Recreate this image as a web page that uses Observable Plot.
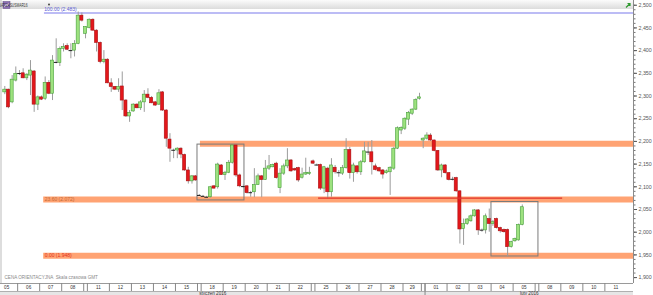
<!DOCTYPE html>
<html><head><meta charset="utf-8">
<script src="https://cdn.jsdelivr.net/npm/d3@7"></script>
<script src="https://cdn.jsdelivr.net/npm/@observablehq/plot@0.6"></script>
<style>html,body{margin:0;padding:0;background:#fff}#chart svg{display:block}</style>
</head><body><div id="chart"></div>
<script>
// ---------- data ----------
const symbol = "NATGASUSMAR16";
const open = [
2.308,2.314,2.286,2.334,2.349,2.350,2.339,2.345,2.354,2.281,
2.297,2.294,2.329,2.305,2.375,2.373,2.404,2.410,2.400,2.400,
2.415,2.477,2.437,2.450,2.468,2.444,2.417,2.375,2.380,2.328,
2.320,2.314,2.321,2.290,2.255,2.266,2.281,2.273,2.286,2.303,
2.296,2.286,2.281,2.308,2.268,2.204,2.180,2.180,2.184,2.170,
2.136,2.112,2.123,2.081,2.079,2.077,2.077,2.101,2.099,2.147,
2.126,2.131,2.153,2.191,2.125,2.101,2.101,2.086,2.088,2.104,
2.123,2.115,2.140,2.143,2.151,2.097,2.129,2.145,2.158,2.139,
2.141,2.120,2.127,2.128,2.156,2.148,2.148,2.096,2.140,2.088,
2.142,2.131,2.129,2.141,2.181,2.130,2.145,2.132,2.154,2.177,
2.176,2.145,2.141,2.136,2.130,2.132,2.140,2.184,2.224,2.228,
2.248,2.261,2.270,2.294,2.202,2.206,2.213,2.202,2.179,2.136,
2.147,2.130,2.117,2.119,2.090,2.007,2.018,2.024,2.035,2.048,
2.005,2.004,2.029,2.018,2.029,2.009,2.005,2.005,1.967,1.980,1.982,2.016];
const high = [
2.321,2.315,2.345,2.364,2.356,2.360,2.349,2.378,2.356,2.300,
2.300,2.342,2.334,2.389,2.426,2.408,2.415,2.415,2.415,2.422,
2.485,2.483,2.453,2.470,2.470,2.446,2.419,2.400,2.382,2.338,
2.321,2.338,2.353,2.292,2.268,2.283,2.283,2.290,2.312,2.316,
2.299,2.288,2.314,2.310,2.270,2.217,2.183,2.186,2.186,2.172,
2.143,2.125,2.125,2.083,2.081,2.079,2.101,2.103,2.152,2.149,
2.134,2.158,2.191,2.191,2.128,2.104,2.103,2.090,2.140,2.128,
2.125,2.158,2.169,2.150,2.154,2.140,2.150,2.184,2.160,2.141,
2.143,2.141,2.163,2.143,2.159,2.150,2.150,2.145,2.143,2.162,
2.147,2.136,2.147,2.206,2.187,2.152,2.147,2.158,2.198,2.198,
2.202,2.150,2.143,2.138,2.137,2.144,2.187,2.232,2.232,2.252,
2.266,2.272,2.294,2.306,2.208,2.219,2.217,2.203,2.180,2.150,
2.149,2.131,2.121,2.121,2.091,2.029,2.030,2.038,2.050,2.050,
2.007,2.040,2.051,2.026,2.031,2.011,2.007,2.007,1.980,1.987,2.018,2.060];
const low = [
2.303,2.272,2.283,2.331,2.345,2.338,2.334,2.301,2.264,2.268,
2.290,2.290,2.303,2.290,2.371,2.365,2.397,2.400,2.382,2.386,
2.413,2.463,2.426,2.448,2.443,2.397,2.371,2.371,2.327,2.308,
2.312,2.308,2.268,2.253,2.242,2.264,2.272,2.268,2.264,2.294,
2.283,2.277,2.279,2.266,2.187,2.154,2.162,2.162,2.162,2.134,
2.106,2.106,2.112,2.079,2.077,2.075,2.075,2.095,2.095,2.125,
2.114,2.129,2.150,2.121,2.098,2.096,2.084,2.077,2.076,2.103,
2.076,2.114,2.136,2.142,2.117,2.085,2.125,2.140,2.132,2.134,
2.110,2.117,2.125,2.125,2.149,2.146,2.092,2.085,2.074,2.077,
2.128,2.121,2.125,2.139,2.117,2.110,2.128,2.125,2.152,2.169,
2.126,2.135,2.132,2.117,2.128,2.081,2.136,2.182,2.215,2.224,
2.235,2.257,2.268,2.291,2.184,2.203,2.200,2.177,2.134,2.120,
2.128,2.113,2.113,2.088,1.974,1.971,2.015,2.022,2.033,1.993,
2.000,1.996,2.000,2.013,2.007,1.998,1.998,1.946,1.965,1.978,1.980,2.014];
const close = [
2.314,2.275,2.336,2.349,2.350,2.339,2.347,2.356,2.281,2.297,
2.292,2.329,2.305,2.378,2.373,2.404,2.408,2.402,2.400,2.415,
2.477,2.466,2.452,2.468,2.444,2.417,2.375,2.380,2.328,2.320,
2.314,2.320,2.290,2.255,2.263,2.281,2.273,2.286,2.303,2.296,
2.284,2.279,2.306,2.268,2.206,2.184,2.181,2.184,2.171,2.136,
2.112,2.123,2.114,2.081,2.079,2.077,2.099,2.096,2.149,2.126,
2.131,2.153,2.191,2.125,2.101,2.100,2.086,2.088,2.104,2.123,
2.115,2.140,2.145,2.148,2.119,2.129,2.145,2.158,2.134,2.136,
2.114,2.127,2.130,2.131,2.151,2.148,2.096,2.143,2.088,2.147,
2.132,2.131,2.141,2.181,2.130,2.147,2.132,2.154,2.178,2.176,
2.154,2.137,2.134,2.127,2.134,2.142,2.184,2.229,2.230,2.250,
2.263,2.270,2.291,2.297,2.206,2.213,2.202,2.179,2.136,2.147,
2.130,2.115,2.116,2.090,2.006,2.018,2.028,2.035,2.048,2.004,
2.004,2.035,2.018,2.022,2.009,2.002,2.000,1.967,1.978,1.985,2.016,2.055];

// date axis (4-hour candles; index of first and last candle of each day)
const dayLabels = ["05","06","07","08","11","12","13","14","15","18","19","20","21","22","25","26","27","28","29","01","02","03","04","05","08","09","10","11"];
const dayFirst  = [-2,4,10,16,23,29,35,41,47,54,60,66,72,78,85,91,97,103,109,115,121,127,133,139,146,152,158,164];
const dayLast   = [3,9,15,21,28,34,40,46,52,59,65,71,77,83,90,96,102,108,113,120,126,132,138,144,151,157,163,169];
const sundayCandles = [22,53,84,114,145];
const monthLabels = ["styczeń 2016","luty 2016"];
const monthFirst = [-2,115];
const monthLast  = [114,175];

// price axis ticks
const priceTicks = d3.range(38, 51).map(d => d / 20);     // 1.90 .. 2.50
const minorTicks = d3.range(190, 251).map(d => d / 100);

// Fibonacci levels
const fibLabels = ["100.00 (2.483)","23.60 (2.072)","0.00 (1.948)"];
const fibValues = [2.483, 2.072, 1.948];
const fibStart = 10.6;
// resistance zone
const zoneValue = 2.195, zoneStart = 53.3;
// red trend line
const redLineValue = 2.075, redLineStart = 85.5, redLineEnd = 152;
// consolidation boxes
const boxLeft = [52.5, 132.6], boxRight = [65.3, 145.4];
const boxTop = [2.193, 2.0665], boxBottom = [2.070, 1.9465];
const caption = "CENA ORIENTACYJNA  Skala czasowa GMT";

// ---------- chart ----------
const xDomain = [-1.172, 171.3];
const yDomain = [1.887, 2.5104];
const idx = d3.range(open.length);
const isDoji = i => Math.abs(close[i] - open[i]) < 0.0025;
const up = idx.filter(i => !isDoji(i) && close[i] > open[i]);
const down = idx.filter(i => !isDoji(i) && close[i] < open[i]);
const doji = idx.filter(isDoji);
const fmt = d => d.toFixed(3).replace(".", ",");

const separators = [];
dayFirst.forEach(f => separators.push(f - 0.5));
sundayCandles.forEach(s => separators.push(s - 0.5, s + 0.5));
const sepUnique = Array.from(new Set(separators)).filter(s => s > xDomain[0] && s < xDomain[1]).sort((a,b)=>a-b);
const dayCenters = dayFirst.map((f, i) => (f + dayLast[i]) / 2);
const dayLabelOf = new Map(dayCenters.map((c, i) => [c, dayLabels[i]]));
const monthCenters = monthFirst.map((f, i) => (Math.max(f - 0.5, xDomain[0]) + Math.min(monthLast[i] + 0.5, xDomain[1])) / 2);
const monthLabelOf = new Map(monthCenters.map((c, i) => [c, monthLabels[i]]));

const chrome = (index, scales, values, dims) => {
  const right = dims.width - dims.marginRight;
  const bottom = dims.height - dims.marginBottom;
  const g = d3.create("svg:g");
  const lg = g.append("defs").append("linearGradient").attr("id","hdrGrad").attr("x1",0).attr("x2",0).attr("y1",0).attr("y2",1);
  lg.append("stop").attr("offset","0%").attr("stop-color","#fbfbfb");
  lg.append("stop").attr("offset","100%").attr("stop-color","#dcdcdc");
  g.append("rect").attr("x",0).attr("y",0).attr("width",right).attr("height",9).attr("fill","url(#hdrGrad)");
  g.append("line").attr("x1",1).attr("x2",1).attr("y1",0).attr("y2",bottom).attr("stroke","#bbb");
  g.append("rect").attr("x",0).attr("y",bottom+8).attr("width",right).attr("height",dims.marginBottom-8).attr("fill","#e6e6e6");
  g.append("line").attr("x1",0).attr("x2",right).attr("y1",bottom+0.5).attr("y2",bottom+0.5).attr("stroke","#9a9a9a");
  g.append("line").attr("x1",0).attr("x2",right).attr("y1",bottom+8.5).attr("y2",bottom+8.5).attr("stroke","#b0b0b0");
  // symbol header
  g.append("rect").attr("x",3).attr("y",1.5).attr("width",7).attr("height",7).attr("fill","#8d6fb5").attr("stroke","#5d4a80").attr("stroke-width",0.5);
  g.append("path").attr("d","M4.5,7 L6,4.5 L7.2,6 L8.8,3").attr("fill","none").attr("stroke","#fff").attr("stroke-width",0.8);
  g.append("text").attr("x",13).attr("y",7.2).attr("font-size",4.6).attr("fill","#333")
    .attr("textLength",29).attr("lengthAdjust","spacingAndGlyphs").text(symbol);
  g.append("circle").attr("cx",49).attr("cy",4.5).attr("r",0.9).attr("fill","#333");
  g.append("path").attr("d",`M${right-7},7.5 L${right-3},3.5 M${right-5.5},3.5 L${right-3},3.5 L${right-3},6`).attr("fill","none").attr("stroke","#2f9a2f").attr("stroke-width",1.2);
  return g.node();
};

const chart = Plot.plot({
  width: 653, height: 295,
  marginTop: 0, marginRight: 20, marginBottom: 12, marginLeft: 0,
  style: {fontFamily: "'Liberation Sans', Arial, sans-serif", background: "#fff", overflow: "visible"},
  x: {domain: xDomain},
  y: {domain: yDomain},
  marks: [
    chrome,
    // Fibonacci bands
    Plot.ruleY([1, 2], {y: i => fibValues[i], x1: fibStart, x2: xDomain[1], stroke: "#ffa373", strokeWidth: 6}),
    Plot.ruleY([zoneValue], {x1: zoneStart, x2: xDomain[1], stroke: "#ffa373", strokeWidth: 6}),
    Plot.ruleY([0], {y: i => fibValues[i], x1: fibStart + 0.2, x2: xDomain[1], stroke: "#a6a6f2", strokeWidth: 1.5}),
    // boxes
    Plot.rect([0, 1], {x1: i => boxLeft[i], x2: i => boxRight[i], y1: i => boxBottom[i], y2: i => boxTop[i], fill: "none", stroke: "#7a7a7a", strokeWidth: 1}),
    // candles
    Plot.ruleX(idx, {x: i => i, y1: i => low[i], y2: i => high[i], stroke: "#9c9c9c", strokeWidth: 1}),
    Plot.rect(up, {x1: i => i - 0.42, x2: i => i + 0.42, y1: i => open[i], y2: i => close[i], fill: "#9de27f", stroke: "#46a03a", strokeWidth: 0.6}),
    Plot.rect(down, {x1: i => i - 0.42, x2: i => i + 0.42, y1: i => open[i], y2: i => close[i], fill: "#e3171b", stroke: "#a90e10", strokeWidth: 0.6}),
    Plot.ruleY(doji, {y: i => (open[i] + close[i]) / 2, x1: i => i - 0.5, x2: i => i + 0.5, stroke: "#1e1e1e", strokeWidth: 1}),
    // red line
    Plot.ruleY([redLineValue], {x1: redLineStart, x2: redLineEnd, stroke: "#e2322a", strokeWidth: 1.2}),
    // level labels
    Plot.text([0], {x: fibStart, y: i => fibValues[i], text: i => fibLabels[i], textAnchor: "start", dx: 0.5, dy: -3.8, fontSize: 5, fill: "#5b5bd6"}),
    Plot.text([1], {x: fibStart, y: i => fibValues[i], text: i => fibLabels[i], textAnchor: "start", dx: 1, fontSize: 5, fill: "#c46a34"}),
    Plot.text([2], {x: fibStart, y: i => fibValues[i], text: i => fibLabels[i], textAnchor: "start", dx: 1, fontSize: 5, fill: "#e3301c"}),
    // caption (bottom-left inside the plot)
    Plot.text([caption], {frameAnchor: "bottom-left", textAnchor: "start", dx: 4, dy: -4.5, fontSize: 4.6, fill: "#8a8a8a"}),
    // right price axis
    Plot.ruleX([xDomain[1]], {stroke: "#8a8a8a"}),
    Plot.axisY(minorTicks, {anchor: "right", tickSize: 1.5, tickFormat: () => "", stroke: "#777", label: null}),
    Plot.axisY(priceTicks, {anchor: "right", tickSize: 3, tickPadding: 2, tickFormat: fmt, fontSize: 5.3, color: "#555", label: null}),
    // date axis
    Plot.axisX(sepUnique, {anchor: "bottom", tickSize: 8, tickFormat: () => "", stroke: "#888", label: null}),
    Plot.axisX([114.5], {anchor: "bottom", tickSize: 12, tickFormat: () => "", stroke: "#888", label: null}),
    Plot.axisX(dayCenters.filter(c => c < xDomain[1]), {anchor: "bottom", tickSize: 0, tickPadding: 2.2, tickFormat: d => dayLabelOf.get(d), fontSize: 4.6, color: "#333", label: null}),
    Plot.axisX(monthCenters, {anchor: "bottom", tickSize: 0, tickPadding: 8.6, tickFormat: d => monthLabelOf.get(d), fontSize: 4.6, color: "#333", label: null})
  ]
});
document.getElementById("chart").appendChild(chart);
</script>
</body></html>
